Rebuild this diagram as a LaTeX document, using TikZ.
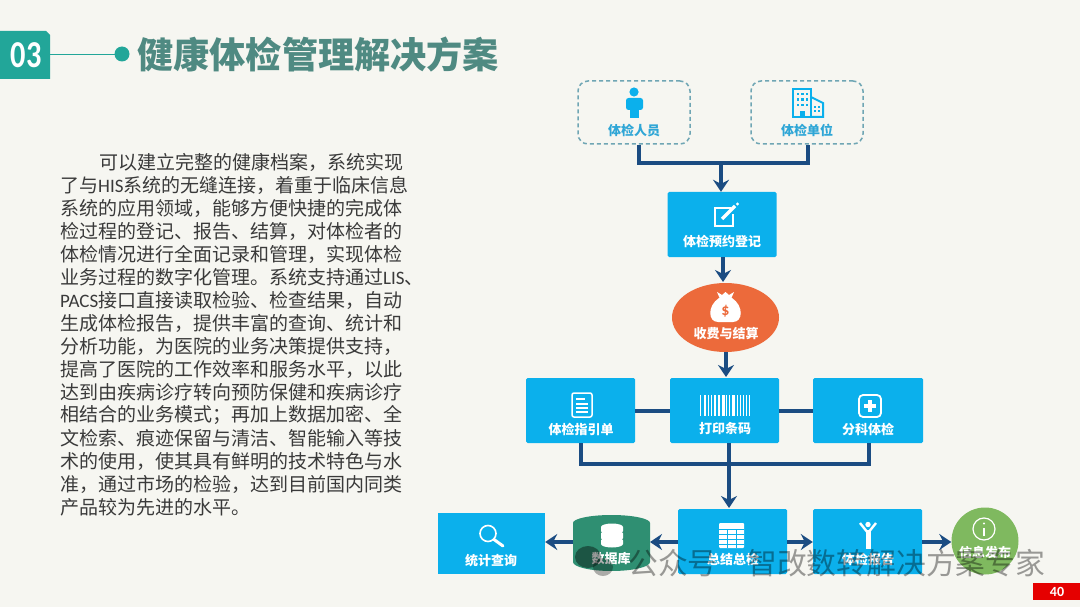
\documentclass[tikz,border=0pt]{standalone}
\usepackage{fontspec}
\usetikzlibrary{shapes.geometric,arrows.meta,calc}
\setmainfont{Noto Sans CJK SC}
\newfontfamily\latinf{Carlito}
\newcommand{\zc}{\char"FF0C\relax}
\newcommand{\zf}{\char"FF1B\relax}
\definecolor{bgc}{HTML}{F6F6F1}
\definecolor{tealc}{HTML}{22A699}
\definecolor{titlec}{HTML}{4F8A82}
\definecolor{boxc}{HTML}{0BB0EC}
\definecolor{navyc}{HTML}{1B4C82}
\definecolor{orangec}{HTML}{EC6A3B}
\definecolor{dbc}{HTML}{2F8F72}
\definecolor{greenc}{HTML}{7FB95F}
\definecolor{dashc}{HTML}{6FA6B4}
\definecolor{labelc}{HTML}{2FA6D6}
\definecolor{txtc}{HTML}{3A3A3A}
\tikzset{
  flowbox/.style={fill=boxc,rounded corners=1.5pt,minimum width=#1,minimum height=65pt,inner sep=0pt},
  flowbox/.default=109pt,
  dashbox/.style={draw=dashc,dash pattern=on 4pt off 3pt,line width=1.5pt,rounded corners=10pt,minimum width=112pt,minimum height=63pt,inner sep=0pt},
  lab/.style={text=white,font=\bfseries\fontsize{13}{13}\selectfont,inner sep=0pt},
  dlab/.style={text=labelc,font=\bfseries\fontsize{13}{13}\selectfont,inner sep=0pt},
  conn/.style={draw=navyc,line width=3.5pt},
  arr/.style={draw=navyc,line width=3.5pt,-{Stealth[length=12pt,width=16pt,inset=4pt]}},
  para/.style={anchor=west,text=txtc,inner sep=0pt,font=\fontsize{19}{19}\selectfont},
  wm/.style={text=black,opacity=0.38,inner sep=0pt,anchor=west,font=\fontsize{29.8}{30}\selectfont},
  iconw/.style={draw=white,line width=1.5pt},
}
\begin{document}
\begin{tikzpicture}[x=1pt,y=-1pt]
\useasboundingbox (0,0) rectangle (1080,607);
\fill[bgc] (0,0) rectangle (1080,607);
% header
\fill[tealc] (0,31) -- (46,31) -- (50,35) -- (50,79) -- (0,79) -- cycle;
\node[inner sep=0pt,text=white,xscale=0.8,font=\latinf\bfseries\fontsize{38}{38}\selectfont] (num) at (26,55) {03};
\fill[tealc] (122,54) circle (7.5);
\coordinate (dot) at (122,54);
\coordinate (tab) at (50,54);
\draw[tealc,line width=0.8pt] (tab) -- (dot);
\node[anchor=west,inner sep=0pt,text=titlec,font=\bfseries\fontsize{36.2}{36.2}\selectfont] (title) at (137,55) {健康体检管理解决方案};
% paragraph
\node[para] (p1) at (99,162) {可以建立完整的健康档案\zc 系统实现};
\node[para] (p2) at (60,185) {了与{\latinf HIS}系统的无缝连接\zc 着重于临床信息};
\node[para] (p3) at (60,208) {系统的应用领域\zc 能够方便快捷的完成体};
\node[para] (p4) at (60,231) {检过程的登记、报告、结算\zc 对体检者的};
\node[para] (p5) at (60,254) {体检情况进行全面记录和管理\zc 实现体检};
\node[para] (p6) at (60,277) {业务过程的数字化管理。系统支持通过{\latinf LIS}、};
\node[para] (p7) at (60,300) {{\latinf PACS}接口直接读取检验、检查结果\zc 自动};
\node[para] (p8) at (60,323) {生成体检报告\zc 提供丰富的查询、统计和};
\node[para] (p9) at (60,346) {分析功能\zc 为医院的业务决策提供支持\zc};
\node[para] (p10) at (60,369) {提高了医院的工作效率和服务水平\zc 以此};
\node[para] (p11) at (60,392) {达到由疾病诊疗转向预防保健和疾病诊疗};
\node[para] (p12) at (60,415) {相结合的业务模式\zf 再加上数据加密、全};
\node[para] (p13) at (60,438) {文检索、痕迹保留与清洁、智能输入等技};
\node[para] (p14) at (60,461) {术的使用\zc 使其具有鲜明的技术特色与水};
\node[para] (p15) at (60,484) {准\zc 通过市场的检验\zc 达到目前国内同类};
\node[para] (p16) at (60,507) {产品较为先进的水平。};
% top nodes
\node[dashbox] (person) at (634,112.5) {};
\node[dashbox] (unit) at (807,112.5) {};
\node[flowbox] (reg) at (722,224.5) {};
\node[ellipse,fill=orangec,minimum width=107pt,minimum height=69pt,inner sep=0pt] (pay) at (725.5,317.5) {};
\node[flowbox] (guide) at (580.5,410.5) {};
\node[flowbox] (code) at (724.5,410.5) {};
\node[flowbox=110pt] (dept) at (868,410.5) {};
\node[fill=boxc,minimum width=107pt,minimum height=61pt,inner sep=0pt] (query) at (491.5,543.5) {};
\node[flowbox] (sum) at (732.5,541.5) {};
\node[flowbox] (report) at (867.5,541.5) {};
\node[ellipse,fill=greenc,minimum width=67pt,minimum height=67pt,inner sep=0pt] (info) at (985,541) {};
% database cylinder
\fill[dbc] (573,523) arc[start angle=180,end angle=360,x radius=38.5,y radius=8] -- (650,562) arc[start angle=0,end angle=180,x radius=38.5,y radius=9] -- cycle;
\coordinate (dbW) at (573,542);
\coordinate (dbE) at (650,542);
% connectors
\coordinate (j1) at (639,163);
\coordinate (j2) at (808,163);
\coordinate (j3) at (721,163);
\draw[conn] (j1 |- person.south) -- (j1) -- (j2) -- (j2 |- unit.south);
\draw[arr] (j3) -- (j3 |- reg.north);
\draw[arr] (723,257) -- (723,282);
\draw[arr] (726,352) -- (726,377);
\draw[conn] (guide.east |- 0,411) -- (code.west |- 0,411);
\draw[conn] (code.east |- 0,411) -- (dept.west |- 0,411);
\coordinate (j4) at (581,464);
\coordinate (j5) at (869,464);
\coordinate (j6) at (729,464);
\draw[conn] (j4 |- guide.south) -- (j4) -- (j5) -- (j5 |- dept.south);
\draw[arr] (j6 |- code.south) -- (729,508);
\draw[arr] (sum.west |- 0,542) -- (dbE);
\draw[arr] (dbW) -- (query.east |- 0,542);
\draw[arr] (sum.east |- 0,542) -- (report.west |- 0,542);
\draw[arr] (report.east |- 0,542) -- (info.west |- 0,542);
% icons: person
\fill[boxc] (634,92) circle (4.6);
\fill[boxc,rounded corners=2.5pt] (626,98) rectangle (643,110);
\fill[boxc] (630,105) rectangle (638.5,118);
% icons: building
\begin{scope}[draw=boxc,line width=2pt]
\draw (793,117) -- (793,89) -- (811,89) -- (811,117) -- cycle;
\draw (811,97) -- (823,103) -- (823,117) -- (811,117);
\end{scope}
\foreach \xx in {798,802.5,807}{\foreach \yy in {94,99.5,105}{\fill[boxc] (\xx-1.3,\yy-1.3) rectangle ++(2.6,2.6);}}
\foreach \xx in {815,819}{\foreach \yy in {107,111}{\fill[boxc] (\xx-1,\yy-1) rectangle ++(2,2);}}
\fill[boxc] (799.5,111) rectangle (804.5,117);
% icons: edit
\draw[iconw,line width=2pt] (731,208) -- (715,208) -- (715,226) -- (733,226) -- (733,214);
\draw[white,line width=3.5pt] (722,219) -- (735,206);
\fill[white] (737.5,204) circle (1.6);
% icons: money bag
\fill[white] (719,298) .. controls (707,306) and (708,322) .. (718,322) -- (733,322) .. controls (743,322) and (744,306) .. (732,298) -- cycle;
\fill[white] (717,292) -- (722,295) -- (725.5,292) -- (729,295) -- (734,292) -- (731,299) -- (720,299) -- cycle;
\node[inner sep=0pt,text=orangec,font=\latinf\bfseries\fontsize{16}{16}\selectfont] (dollar) at (725.5,311) {\$};
% icons: guide doc
\draw[iconw,rounded corners=2pt] (572,393) rectangle (592,417);
\draw[white,line width=1.3pt] (576,399) -- (585,399) (576,404) -- (588,404) (576,408) -- (588,408) (576,412) -- (588,412);
% icons: barcode
\foreach \xx/\ww in {700/1.4,704/2.4,708/1.2,711/1.2,714/2.2,718/2.2,722/2.6,726/1.4,729/1.4,732/2.8,737/1.2,740/1.2,743/1.2,746/1.2,749/1.2}{\fill[white] (\xx,395) rectangle ++(\ww,21);}
% icons: plus box
\draw[iconw,line width=1.8pt,rounded corners=4pt] (859,395) rectangle (881,417);
\draw[white,line width=4pt] (870,400) -- (870,412) (864,406) -- (876,406);
% icons: magnifier
\draw[iconw,line width=1.6pt] (488,533.5) circle (8);
\draw[white,line width=3pt,line cap=round] (494,539.5) -- (503,546);
% icons: db stack
\fill[white] (601,527) arc[start angle=180,end angle=360,x radius=11,y radius=3.5] -- (623,531) arc[start angle=0,end angle=180,x radius=11,y radius=3.5] -- cycle;
\fill[white] (601,533.5) arc[start angle=180,end angle=0,x radius=11,y radius=-3] -- (623,538) arc[start angle=0,end angle=180,x radius=11,y radius=3.5] -- cycle;
\fill[white] (601,540.5) arc[start angle=180,end angle=0,x radius=11,y radius=-3] -- (623,544) arc[start angle=0,end angle=180,x radius=11,y radius=3.5] -- cycle;
% icons: table
\fill[white,rounded corners=1pt] (719,523) rectangle (744,548);
\draw[boxc,line width=1pt] (719,529) -- (744,529) (719,534) -- (744,534) (719,539) -- (744,539) (719,544) -- (744,544) (727,529) -- (727,548) (736,529) -- (736,548);
% icons: figure
\fill[white] (868,524.5) circle (2.7);
\draw[white,line width=2.4pt] (860,523) -- (868,533) -- (876,523);
\fill[white] (865.5,530) rectangle (871,549);
% icons: info
\draw[iconw,line width=1.2pt] (984,529) circle (11);
\draw[white,line width=1.6pt] (984,528) -- (984,536);
\fill[white] (984,523.5) circle (1.1);
% labels
\node[dlab] (lperson) at (634,130.5) {体检人员};
\node[dlab] (lunit) at (807,130.5) {体检单位};
\node[lab] (lreg) at (722,241.5) {体检预约登记};
\node[lab] (lpay) at (726,334) {收费与结算};
\node[lab] (lguide) at (581,429) {体检指引单};
\node[lab] (lcode) at (725,429) {打印条码};
\node[lab] (ldept) at (868,429) {分科体检};
\node[lab] (lquery) at (491,561) {统计查询};
\node[lab] (ldb) at (611,559) {数据库};
\node[lab] (lsum) at (733,559) {总结总检};
\node[lab] (lrep) at (868,559) {体检报告};
\node[lab] (linfo) at (985,553) {信息发布};
% page number
\fill[red!90!black] (1033,583) rectangle (1080,600);
\node[inner sep=0pt,text=white,font=\latinf\bfseries\fontsize{14}{14}\selectfont] (pg) at (1057,591.5) {40};
% watermark
\fill[black,opacity=0.4] (588,557) ellipse (13 and 11);
\fill[black,opacity=0.3] (603,567) ellipse (10 and 9);
\node[wm] (wm1) at (628,563) {公众号};
\node[wm] (wm2) at (747,563) {智改数转解决方案专家};
\end{tikzpicture}
\end{document}
